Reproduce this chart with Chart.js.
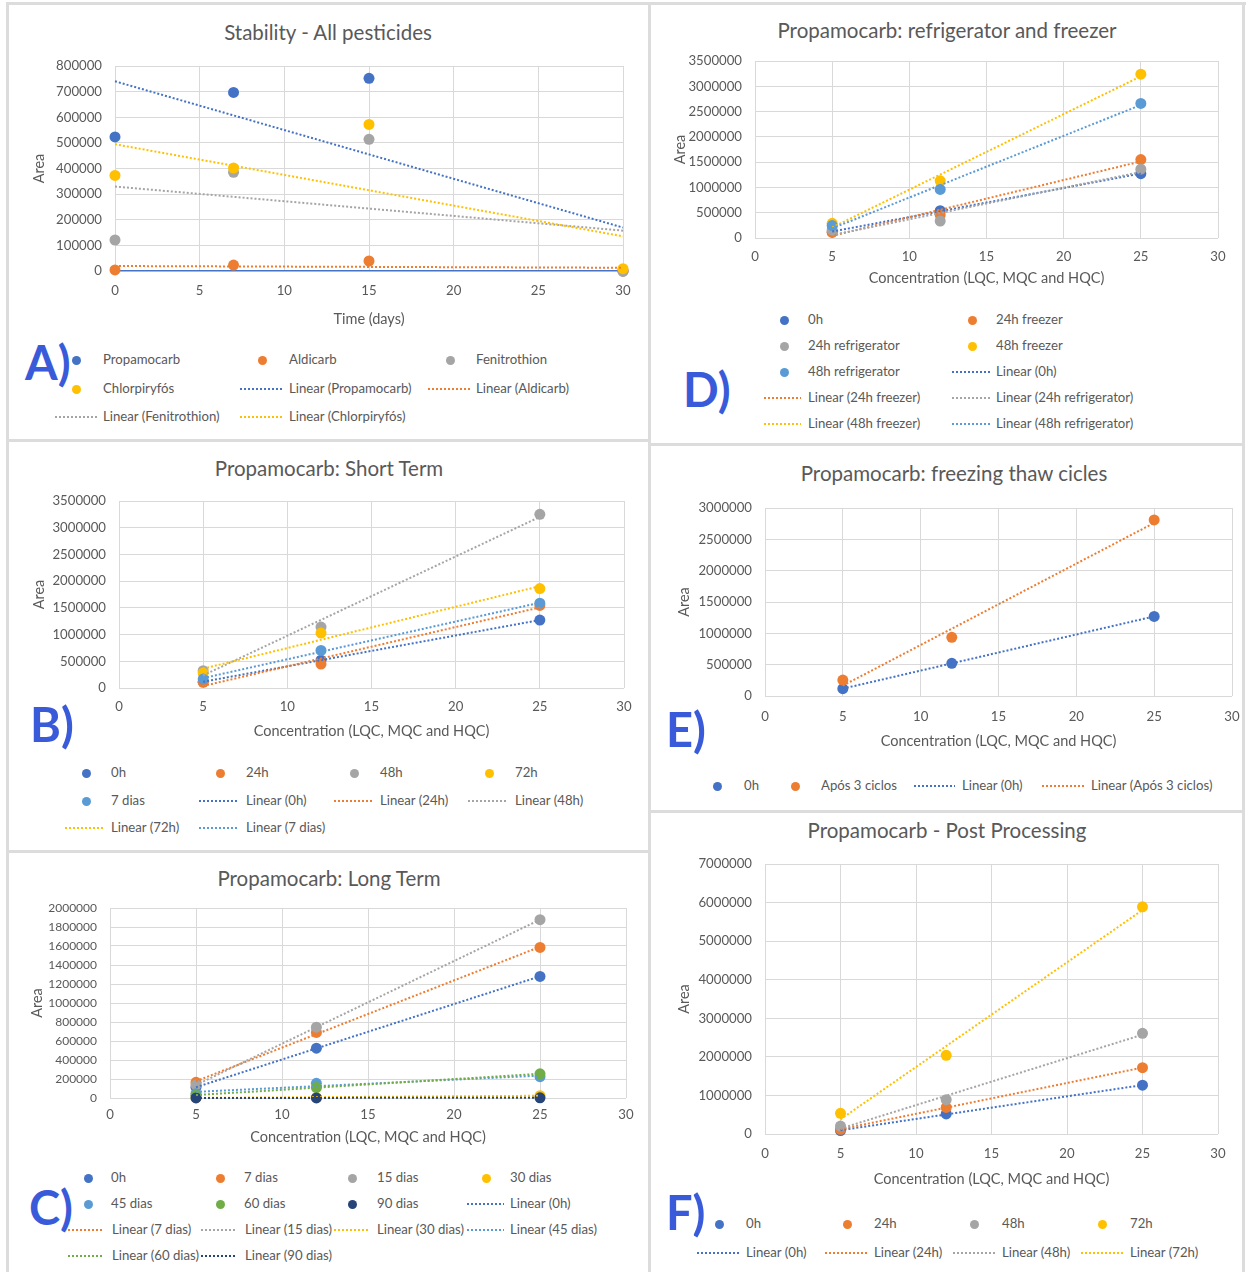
<!DOCTYPE html>
<html>
<head>
<meta charset="utf-8">
<title>Propamocarb stability</title>
<script src="https://cdn.jsdelivr.net/npm/chart.js@4.4.1/dist/chart.umd.min.js"></script>
<style>
  html, body { margin: 0; padding: 0; background: #fff; }
  #page { position: relative; width: 1252px; height: 1272px; overflow: hidden;
          font-family: Lato, "Open Sans", sans-serif; color: #595959; }
  .sep { position: absolute; background: #dcdcdc; }
  .ttl { position: absolute; transform: translate(-50%, -50%); font-size: 20.5px; white-space: nowrap; }
  .lbl { position: absolute; font-size: 13.2px; white-space: nowrap; transform: translateY(-50%); line-height: 1; }
  .dot { position: absolute; width: 9px; height: 9px; border-radius: 50%; }
  .dash { position: absolute; height: 2px; }
  .tag { position: absolute; font-weight: 700; font-size: 47px; color: #3a5bd9; transform: translateY(-50%); line-height: 1; }
  canvas { position: absolute; }
</style>
</head>
<body>
<div id="page"></div>
<script>
// ---- Stability of all pesticides over time (days) ----
const stabilityDays = [0, 7, 15, 30];
const propamocarbArea = [523000, 697000, 752000, 0];
const aldicarbArea = [4000, 23000, 39000, 0];
const fenitrothionArea = [121000, 385000, 514000, 0];
const chlorpyrifosArea = [373000, 402000, 572000, 9000];

// ---- Propamocarb QC levels (LQC, MQC, HQC) ----
const qcLevels = [5, 12, 25];

// Short term
const shortTerm0h = [117000, 521000, 1272000];
const shortTerm24h = [106000, 448000, 1545000];
const shortTerm48h = [324000, 1140000, 3250000];
const shortTerm72h = [280000, 1028000, 1862000];
const shortTerm7d = [168000, 704000, 1588000];

// Long term
const longTerm0h = [112000, 524000, 1280000];
const longTerm7d = [165000, 690000, 1585000];
const longTerm15d = [137000, 745000, 1877000];
const longTerm30d = [3000, 5000, 25000];
const longTerm45d = [45000, 155000, 225000];
const longTerm60d = [30000, 110000, 255000];
const longTerm90d = [1000, 1000, 2000];

// Refrigerator and freezer
const storage0h = [120000, 540000, 1272000];
const freezer24h = [110000, 455000, 1550000];
const fridge24h = [160000, 336000, 1360000];
const freezer48h = [290000, 1130000, 3240000];
const fridge48h = [245000, 960000, 2660000];

// Freeze-thaw cycles
const thaw0h = [117000, 521000, 1270000];
const thawAfter3 = [255000, 936000, 2810000];

// Post processing
const post0h = [90000, 519000, 1265000];
const post24h = [120000, 690000, 1720000];
const post48h = [207000, 890000, 2610000];
const post72h = [536000, 2040000, 5890000];

const C = { blue: '#4472C4', orange: '#ED7D31', gray: '#A5A5A5', gold: '#FFC000',
            sky: '#5B9BD5', green: '#70AD47', navy: '#264478' };
const FONT = 'Lato, "Open Sans", sans-serif';
const TEXT = '#595959';
const GRID = '#d9d9d9';
const concTitle = 'Concentration (LQC, MQC and HQC)';

// Legend slots: markers [cx, cy, textX], lines [x1, x2, cy, textX]
const panels = [
  { title: 'Stability - All pesticides', titleX: 328, titleY: 32, tag: 'A)', tagX: 25, tagY: 362,
    box: [7, 3, 650, 440], plot: { l: 115, t: 66, r: 623, b: 271 },
    x: { min: 0, max: 30, step: 5, title: 'Time (days)', titleY: 319, labelY: 291 },
    y: { max: 800000, step: 100000, titleX: 39 }, trend: [0, 30], zeroLine: C.blue,
    series: [
      { name: 'Propamocarb', x: stabilityDays, y: propamocarbArea, color: C.blue },
      { name: 'Aldicarb', x: stabilityDays, y: aldicarbArea, color: C.orange },
      { name: 'Fenitrothion', x: stabilityDays, y: fenitrothionArea, color: C.gray },
      { name: 'Chlorpiryfós', x: stabilityDays, y: chlorpyrifosArea, color: C.gold }
    ],
    slots: [[76, 360, 103], [262, 360, 289], [450, 360, 476], [76, 389, 103],
            [240, 283, 389, 289], [428, 470, 389, 476], [55, 97, 417, 103], [240, 283, 417, 289]] },

  { title: 'Propamocarb: Short Term', titleX: 329, titleY: 468, tag: 'B)', tagX: 30, tagY: 724,
    box: [7, 440, 650, 851], plot: { l: 119, t: 501, r: 624, b: 688 },
    x: { min: 0, max: 30, step: 5, title: concTitle, titleY: 731, labelY: 707 },
    y: { max: 3500000, step: 500000, titleX: 39 },
    series: [
      { name: '0h', x: qcLevels, y: shortTerm0h, color: C.blue },
      { name: '24h', x: qcLevels, y: shortTerm24h, color: C.orange },
      { name: '48h', x: qcLevels, y: shortTerm48h, color: C.gray },
      { name: '72h', x: qcLevels, y: shortTerm72h, color: C.gold },
      { name: '7 dias', x: qcLevels, y: shortTerm7d, color: C.sky }
    ],
    slots: [[86, 773, 111], [220, 773, 246], [354, 773, 380], [489, 773, 515], [86, 801, 111],
            [199, 239, 801, 246], [334, 373, 801, 380], [468, 508, 801, 515],
            [65, 104, 828, 111], [199, 239, 828, 246]] },

  { title: 'Propamocarb: Long Term', titleX: 329, titleY: 878, tag: 'C)', tagX: 29, tagY: 1207,
    box: [7, 851, 650, 1272], plot: { l: 110, t: 908, r: 626, b: 1098 }, yTickSize: 12,
    x: { min: 0, max: 30, step: 5, title: concTitle, titleY: 1137, labelY: 1115 },
    y: { max: 2000000, step: 200000, titleX: 37 },
    series: [
      { name: '0h', x: qcLevels, y: longTerm0h, color: C.blue },
      { name: '7 dias', x: qcLevels, y: longTerm7d, color: C.orange },
      { name: '15 dias', x: qcLevels, y: longTerm15d, color: C.gray },
      { name: '30 dias', x: qcLevels, y: longTerm30d, color: C.gold },
      { name: '45 dias', x: qcLevels, y: longTerm45d, color: C.sky },
      { name: '60 dias', x: qcLevels, y: longTerm60d, color: C.green },
      { name: '90 dias', x: qcLevels, y: longTerm90d, color: C.navy }
    ],
    slots: [[88, 1178, 111], [220, 1178, 244], [352, 1178, 377], [486, 1178, 510],
            [88, 1204, 111], [220, 1204, 244], [352, 1204, 377], [467, 504, 1204, 510],
            [68, 104, 1230, 112], [201, 237, 1230, 245], [334, 370, 1230, 377], [467, 504, 1230, 510],
            [68, 104, 1256, 112], [201, 237, 1256, 245]] },

  { title: 'Propamocarb: refrigerator and freezer', titleX: 947, titleY: 30, tag: 'D)', tagX: 683, tagY: 389,
    box: [650, 3, 1244, 444], plot: { l: 755, t: 61, r: 1218, b: 238 },
    x: { min: 0, max: 30, step: 5, title: concTitle, titleY: 278, labelY: 257 },
    y: { max: 3500000, step: 500000, titleX: 680 },
    series: [
      { name: '0h', x: qcLevels, y: storage0h, color: C.blue },
      { name: '24h  freezer', x: qcLevels, y: freezer24h, color: C.orange },
      { name: '24h  refrigerator', x: qcLevels, y: fridge24h, color: C.gray },
      { name: '48h freezer', x: qcLevels, y: freezer48h, color: C.gold },
      { name: '48h refrigerator', x: qcLevels, y: fridge48h, color: C.sky }
    ],
    slots: [[784, 320, 808], [972, 320, 996], [784, 346, 808], [972, 346, 996], [784, 372, 808],
            [952, 990, 372, 996], [764, 801, 398, 808], [952, 990, 398, 996],
            [764, 801, 424, 808], [952, 990, 424, 996]] },

  { title: 'Propamocarb: freezing thaw cicles', titleX: 954, titleY: 473, tag: 'E)', tagX: 666, tagY: 729,
    box: [650, 444, 1244, 811], plot: { l: 765, t: 508, r: 1232, b: 696 },
    x: { min: 0, max: 30, step: 5, title: concTitle, titleY: 741, labelY: 717 },
    y: { max: 3000000, step: 500000, titleX: 684 },
    series: [
      { name: '0h', x: qcLevels, y: thaw0h, color: C.blue },
      { name: 'Após 3 ciclos', x: qcLevels, y: thawAfter3, color: C.orange }
    ],
    slots: [[717, 786, 744], [795, 786, 821], [914, 955, 786, 962], [1042, 1084, 786, 1091]] },

  { title: 'Propamocarb - Post Processing', titleX: 947, titleY: 830, tag: 'F)', tagX: 666, tagY: 1212,
    box: [650, 811, 1244, 1272], plot: { l: 765, t: 864, r: 1218, b: 1134 },
    x: { min: 0, max: 30, step: 5, title: concTitle, titleY: 1179, labelY: 1154 },
    y: { max: 7000000, step: 1000000, titleX: 684 },
    series: [
      { name: '0h', x: qcLevels, y: post0h, color: C.blue },
      { name: '24h', x: qcLevels, y: post24h, color: C.orange },
      { name: '48h', x: qcLevels, y: post48h, color: C.gray },
      { name: '72h', x: qcLevels, y: post72h, color: C.gold }
    ],
    slots: [[719, 1224, 746], [847, 1224, 874], [974, 1224, 1002], [1102, 1224, 1130],
            [697, 739, 1253, 746], [825, 867, 1253, 874], [953, 995, 1253, 1002], [1081, 1123, 1253, 1130]] }
];

// least-squares fit used for the "Linear (...)" trendlines
function linearFit(xs, ys) {
  const n = xs.length;
  const mx = xs.reduce((a, b) => a + b, 0) / n;
  const my = ys.reduce((a, b) => a + b, 0) / n;
  let sxy = 0, sxx = 0;
  for (let i = 0; i < n; i++) { sxy += (xs[i] - mx) * (ys[i] - my); sxx += (xs[i] - mx) ** 2; }
  const slope = sxy / sxx;
  return x => my + slope * (x - mx);
}

const page = document.getElementById('page');

function el(cls, css, text) {
  const d = document.createElement('div');
  d.className = cls;
  Object.assign(d.style, css);
  if (text !== undefined) d.textContent = text;
  page.appendChild(d);
  return d;
}

// panel frames
[[6, 2, 1240, 3], [6, 2, 3, 1270], [648, 2, 3, 1270], [1242, 2, 3, 1270],
 [6, 439, 644, 3], [6, 850, 644, 3], [650, 443, 594, 3], [650, 810, 594, 3]]
  .forEach(([x, y, w, h]) => el('sep', { left: x + 'px', top: y + 'px', width: w + 'px', height: h + 'px' }));

function buildPanel(p) {
  const tickSize = 13.2, tickLH = tickSize * 1.2;
  const yTickSize = p.yTickSize || tickSize;
  const axSize = 14.5, axLH = axSize * 1.2;
  const cl = p.box[0] + 3, cr = p.box[2] - 1;
  const ct = p.plot.t - 14;
  const cb = Math.round(p.x.titleY + axLH / 2 + 2);
  const W = cr - cl, H = cb - ct;
  const padLeft = p.y.titleX - axLH / 2 - cl;
  const padBottom = cb - (p.x.titleY + axLH / 2);
  const yAxisW = p.plot.l - cl - padLeft;
  const xAxisH = cb - padBottom - p.plot.b;

  const canvas = document.createElement('canvas');
  canvas.width = W; canvas.height = H;
  Object.assign(canvas.style, { left: cl + 'px', top: ct + 'px', width: W + 'px', height: H + 'px' });
  page.appendChild(canvas);

  const datasets = [];
  const span = p.trend || [Math.min(...p.series[0].x), Math.max(...p.series[0].x)];
  p.series.forEach((s, i) => {
    datasets.push({
      label: s.name,
      data: s.x.map((x, k) => ({ x, y: s.y[k] })),
      backgroundColor: s.color, borderColor: s.color,
      pointRadius: 5.5, pointBorderWidth: 0, clip: false, order: -i
    });
  });
  p.series.forEach((s, i) => {
    const f = linearFit(s.x, s.y);
    datasets.push({
      label: 'Linear (' + s.name + ')',
      data: span.map(x => ({ x, y: f(x) })),
      showLine: true, pointRadius: 0, borderColor: s.color, borderWidth: 2,
      borderDash: [2, 2], borderCapStyle: 'butt', clip: false, order: -100 - i
    });
  });

  new Chart(canvas, {
    type: 'scatter',
    data: { datasets },
    options: {
      responsive: false, animation: false, devicePixelRatio: 1, events: [],
      layout: { padding: { left: padLeft, top: p.plot.t - ct, right: cr - p.plot.r, bottom: padBottom } },
      plugins: { legend: { display: false }, tooltip: { enabled: false }, title: { display: false } },
      scales: {
        x: {
          type: 'linear', position: 'bottom', min: p.x.min, max: p.x.max,
          ticks: { stepSize: p.x.step, color: TEXT, font: { family: FONT, size: tickSize },
                   padding: p.x.labelY - p.plot.b - tickLH / 2, maxRotation: 0, autoSkip: false,
                   callback: v => String(v) },
          grid: { color: GRID, lineWidth: 1, drawTicks: false },
          border: { display: false },
          title: { display: true, text: p.x.title, color: TEXT, font: { family: FONT, size: axSize },
                   padding: { top: 0, bottom: 0 } },
          afterFit: s => { s.height = xAxisH; s.paddingLeft = 0; s.paddingRight = 0; }
        },
        y: {
          type: 'linear', position: 'left', min: 0, max: p.y.max,
          ticks: { stepSize: p.y.step, color: TEXT, font: { family: FONT, size: yTickSize },
                   padding: 13, autoSkip: false, callback: v => String(v) },
          grid: {
            color: c => (p.zeroLine && c.tick && c.tick.value === 0) ? p.zeroLine : GRID,
            lineWidth: c => (p.zeroLine && c.tick && c.tick.value === 0) ? 1.5 : 1,
            drawTicks: false
          },
          border: { display: false },
          title: { display: true, text: 'Area', color: TEXT, font: { family: FONT, size: axSize },
                   padding: { top: 0, bottom: 0 } },
          afterFit: s => { s.width = yAxisW; s.paddingTop = 0; s.paddingBottom = 0; }
        }
      }
    }
  });

  el('ttl', { left: p.titleX + 'px', top: p.titleY + 'px' }, p.title);

  // legend: markers first, then trendline samples
  const entries = p.series.map(s => ({ kind: 'dot', color: s.color, text: s.name }))
    .concat(p.series.map(s => ({ kind: 'line', color: s.color, text: 'Linear (' + s.name + ')' })));
  entries.forEach((e, i) => {
    const slot = p.slots[i];
    if (e.kind === 'dot') {
      const [cx, cy, tx] = slot;
      el('dot', { left: (cx - 4.5) + 'px', top: (cy - 4.5) + 'px', background: e.color });
      el('lbl', { left: tx + 'px', top: cy + 'px' }, e.text);
    } else {
      const [x1, x2, cy, tx] = slot;
      el('dash', { left: x1 + 'px', top: (cy - 1) + 'px', width: (x2 - x1) + 'px',
                   background: `repeating-linear-gradient(to right, ${e.color} 0 2px, transparent 2px 4px)` });
      el('lbl', { left: tx + 'px', top: cy + 'px' }, e.text);
    }
  });

  el('tag', { left: p.tagX + 'px', top: p.tagY + 'px' }, p.tag);
}

panels.forEach(buildPanel);
</script>
</body>
</html>
